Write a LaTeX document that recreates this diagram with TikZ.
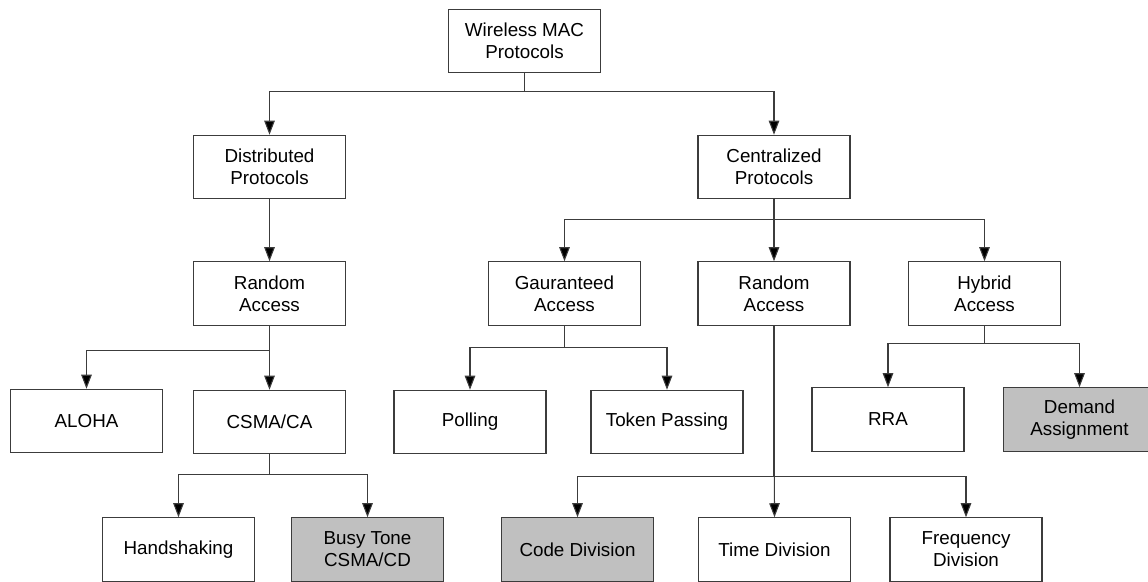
\documentclass[tikz,border=0pt]{standalone}
\usepackage{fontspec}
\setmainfont{Liberation Sans}
\usepackage{xcolor}
\usepackage{tikz}
\usetikzlibrary{arrows.meta,positioning}

\definecolor{boxgray}{RGB}{192,192,192}
\definecolor{linegray}{RGB}{60,60,60}

\begin{document}
\begin{tikzpicture}[
    box/.style={draw=linegray, line width=0.6pt, minimum height=1.27cm, minimum width=3.04cm, inner sep=0pt, font=\fontsize{10.7}{12.4}\selectfont, align=center},
    shaded/.style={box, fill=boxgray},
    arr/.style={-{Triangle[length=0.28cm, width=0.21cm, fill=black]}, line width=0.6pt, draw=linegray}
]
\useasboundingbox (0,0) rectangle (22.96,-11.62);

\node[box] (mac) at (10.49,-0.82) {Wireless MAC\\Protocols};

\node[box] (dist) at (5.39,-3.34) {Distributed\\Protocols};
\node[box] (cent) at (15.48,-3.34) {Centralized\\Protocols};

\node[box] (rand1) at (5.39,-5.87) {Random\\Access};
\node[box] (guar) at (11.29,-5.87) {Gauranteed\\Access};
\node[box] (rand2) at (15.48,-5.87) {Random\\Access};
\node[box] (hyb) at (19.69,-5.87) {Hybrid\\Access};

\node[box] (aloha) at (1.73,-8.42) {ALOHA};
\node[box] (csma) at (5.39,-8.44) {CSMA/CA};
\node[box] (poll) at (9.40,-8.44) {Polling};
\node[box] (token) at (13.34,-8.44) {Token Passing};
\node[box] (rra) at (17.76,-8.39) {RRA};
\node[shaded] (dem) at (21.59,-8.39) {Demand\\Assignment};

\node[box] (hand) at (3.57,-10.99) {Handshaking};
\node[shaded] (busy) at (7.35,-10.99) {Busy Tone\\CSMA/CD};
\node[shaded] (code) at (11.55,-10.99) {Code Division};
\node[box] (time) at (15.49,-10.99) {Time Division};
\node[box] (freq) at (19.32,-10.99) {Frequency\\Division};

% top level
\draw[arr] (mac.south) -- ++(0,-0.36) -| (dist.north);
\draw[arr] (mac.south) -- ++(0,-0.36) -| (cent.north);

% distributed side
\draw[arr] (dist) -- (rand1);
\draw[arr] (rand1.south) -- ++(0,-0.50) -| (aloha.north);
\draw[arr] (rand1.south) -- (csma.north);
\draw[arr] (csma.south) -- ++(0,-0.40) -| (hand.north);
\draw[arr] (csma.south) -- ++(0,-0.40) -| (busy.north);

% centralized side
\draw[arr] (cent.south) -- ++(0,-0.40) -| (guar.north);
\draw[arr] (cent.south) -- (rand2.north);
\draw[arr] (cent.south) -- ++(0,-0.40) -| (hyb.north);

\draw[arr] (guar.south) -- ++(0,-0.44) -| (poll.north);
\draw[arr] (guar.south) -- ++(0,-0.44) -| (token.north);

\draw[arr] (hyb.south) -- ++(0,-0.35) -| (rra.north);
\draw[arr] (hyb.south) -- ++(0,-0.35) -| (dem.north);

\draw[arr] (rand2.south) -- (time.north);
\draw[arr] (rand2.south) -- ++(0,-3.02) -| (code.north);
\draw[arr] (rand2.south) -- ++(0,-3.02) -| (freq.north);
\end{tikzpicture}
\end{document}
